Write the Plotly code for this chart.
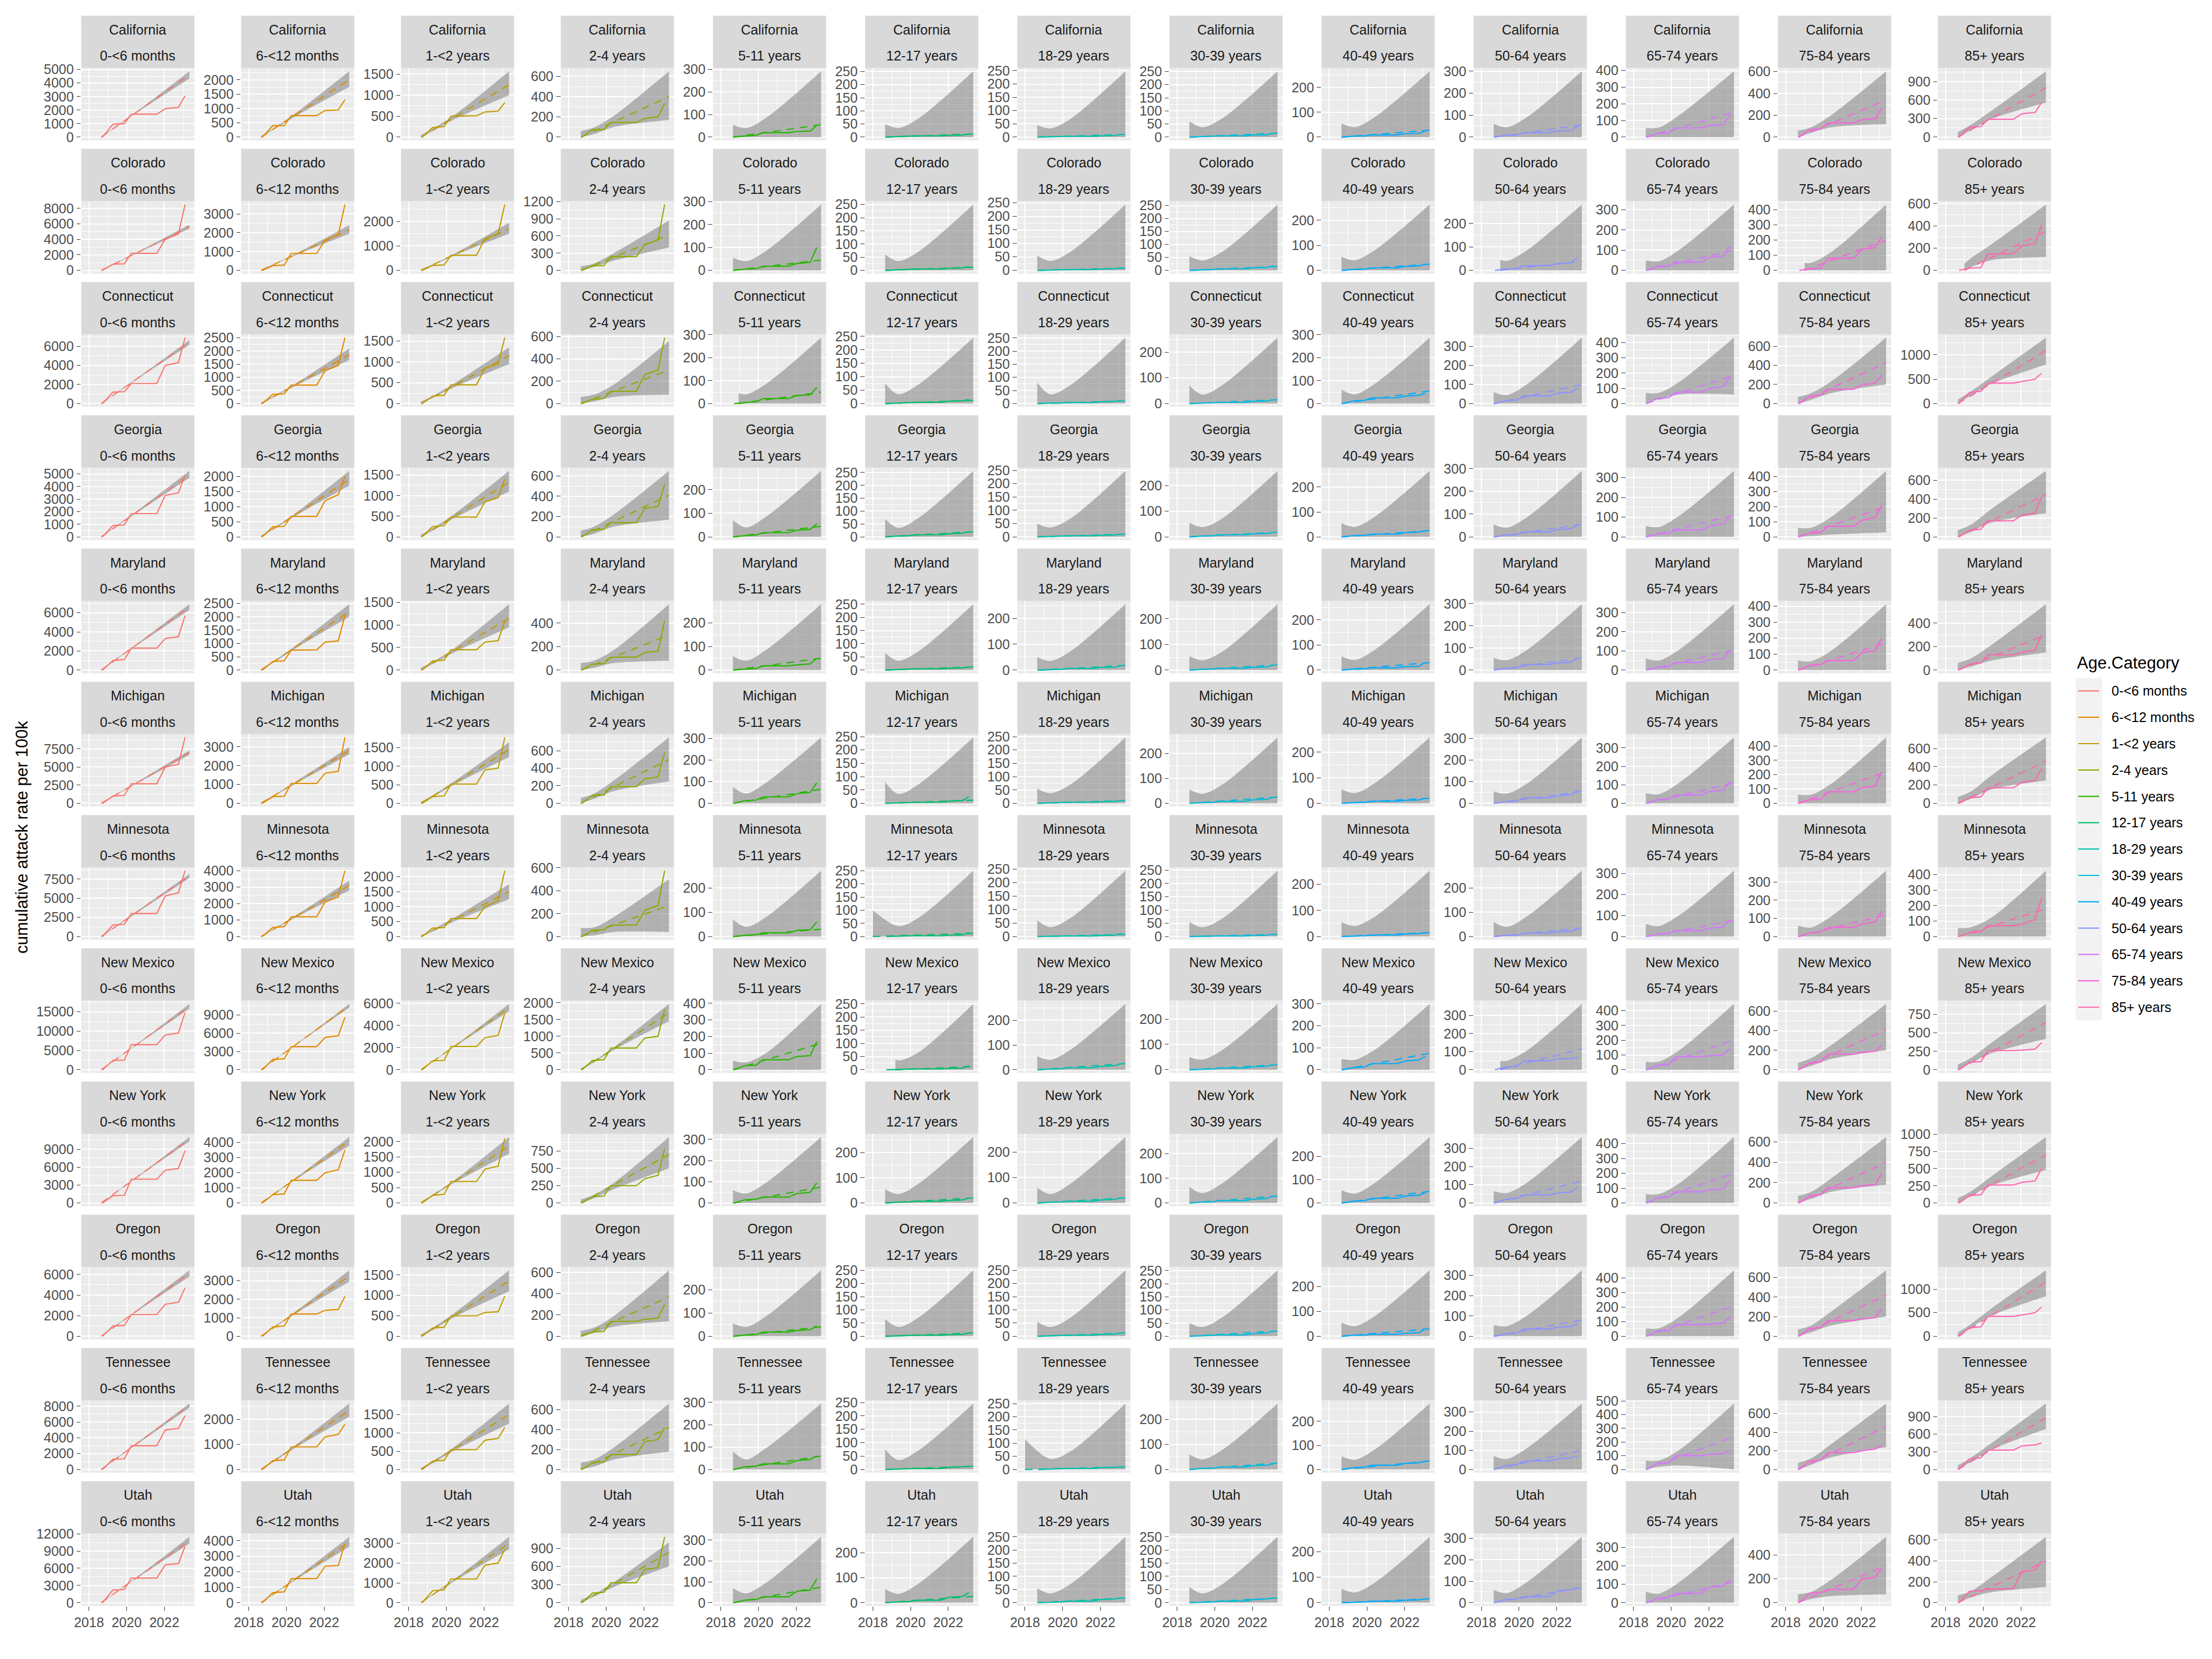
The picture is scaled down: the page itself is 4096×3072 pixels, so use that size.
import plotly.graph_objects as go

# ---------------- categories ----------------
states = ["California", "Colorado", "Connecticut", "Georgia", "Maryland", "Michigan",
          "Minnesota", "New Mexico", "New York", "Oregon", "Tennessee", "Utah"]
ages = ["0-<6 months", "6-<12 months", "1-<2 years", "2-4 years", "5-11 years",
        "12-17 years", "18-29 years", "30-39 years", "40-49 years", "50-64 years",
        "65-74 years", "75-84 years", "85+ years"]
age_colors = ["#F8766D", "#E18A00", "#BE9C00", "#8CAB00", "#24B700", "#00BE70", "#00C1AB",
              "#00BBDA", "#00ACFC", "#8B93FF", "#D575FE", "#F962DD", "#FF65AC"]

obs_time = [2018.72, 2019.27, 2019.88, 2020.25, 2021.6, 2022.05, 2022.75, 2023.1]
band_time = [2018.65, 2019.35, 2020.4, 2023.33]
fit_end_time = 2023.33
x_ticks = [2018, 2020, 2022]

california_obs = [[0, 950, 1000, 1700, 1700, 2100, 2200, 3050], [0, 400, 400, 750, 750, 930, 950, 1300],
                  [0, 230, 250, 500, 510, 600, 620, 820], [0, 75, 75, 145, 145, 185, 200, 330],
                  [0, 5, 8, 20, 20, 25, 27, 52], [0, 2, 3, 5, 5, 7, 8, 12], [0, 1, 2, 3, 3, 5, 6, 10],
                  [0, 2, 3, 5, 5, 8, 9, 15], [0, 4, 5, 9, 9, 14, 15, 25], [0, 8, 10, 20, 21, 28, 30, 48],
                  [0, 22, 25, 55, 55, 70, 75, 130], [0, 70, 75, 130, 130, 160, 170, 270],
                  [0, 160, 170, 290, 290, 380, 400, 560]]
california_fit = [4600, 2000, 1250, 400, 55, 12, 10, 15, 28, 55, 150, 340, 800]
california_up = [[60, 720, 1760, 4870], [40, 330, 800, 2300], [50, 220, 520, 1570], [60, 95, 210, 650],
                 [55, 40, 85, 292], [50, 35, 70, 251], [45, 33, 68, 248], [60, 38, 72, 251], [55, 40, 80, 265],
                 [60, 45, 90, 300], [55, 58, 130, 396], [60, 90, 200, 604], [80, 200, 420, 1068]]
california_lo = [[0, 660, 1680, 4330], [0, 280, 700, 1750], [0, 160, 420, 1000], [0, 30, 100, 170],
                 [0, 0, 0, 0], [0, 0, 0, 0], [0, 0, 0, 0], [0, 0, 0, 0], [0, 0, 0, 0], [0, 0, 0, 0],
                 [0, 0, 0, 0], [0, 40, 90, 120], [0, 110, 290, 560]]
california_dtick = [1000, 500, 500, 200, 100, 50, 50, 50, 100, 100, 100, 200, 300]

colorado_obs = [[0, 800, 850, 2200, 2200, 4000, 4700, 8500], [0, 250, 280, 900, 900, 1600, 1900, 3500],
                [0, 200, 220, 620, 620, 1300, 1500, 2700], [0, 80, 85, 240, 240, 450, 530, 1150],
                [0, 5, 7, 18, 18, 30, 35, 100], [0, 2, 3, 5, 5, 8, 9, 15], [0, 1, 2, 3, 3, 5, 6, 10],
                [0, 2, 3, 6, 6, 10, 11, 18], [0, 4, 5, 10, 10, 16, 18, 25], [0, 6, 8, 20, 20, 28, 32, 55],
                [0, 20, 22, 40, 40, 65, 70, 120], [0, 10, 15, 80, 80, 140, 150, 220],
                [0, 20, 25, 145, 150, 220, 240, 410]]
colorado_fit = [5600, 2150, 1700, 620, 45, 12, 8, 15, 25, 40, 100, 200, 350]
colorado_up = [[60, 870, 2150, 5900], [40, 340, 840, 2400], [40, 270, 670, 1950], [70, 120, 300, 870],
               [55, 40, 85, 288], [60, 35, 70, 250], [55, 35, 68, 244], [55, 38, 72, 254], [55, 40, 80, 263],
               [45, 40, 85, 281], [50, 45, 100, 326], [50, 50, 120, 435], [60, 110, 230, 591]]
colorado_lo = [[0, 800, 2030, 5400], [0, 300, 770, 1950], [0, 230, 600, 1500], [0, 60, 170, 400],
               [0, 0, 0, 0], [0, 0, 0, 0], [0, 0, 0, 0], [0, 0, 0, 0], [0, 0, 0, 0], [0, 0, 0, 0],
               [0, 0, 0, 0], [0, 0, 0, 0], [0, 30, 90, 120]]
colorado_dtick = [2000, 1000, 1000, 300, 100, 50, 50, 50, 100, 100, 100, 100, 200]

connecticut_obs = [[0, 1200, 1250, 2100, 2100, 4000, 4300, 6900], [0, 350, 370, 700, 700, 1250, 1450, 2500],
                   [0, 180, 200, 450, 450, 850, 950, 1580], [0, 40, 45, 110, 110, 260, 300, 590],
                   [0, 5, 8, 22, 22, 35, 38, 70], [0, 2, 3, 5, 5, 9, 10, 15], [0, 2, 2, 4, 4, 7, 8, 12],
                   [0, 2, 3, 5, 5, 9, 10, 15], [0, 12, 14, 25, 25, 33, 36, 45], [0, 15, 18, 40, 40, 55, 60, 80],
                   [0, 35, 40, 75, 75, 100, 110, 170], [0, 80, 90, 150, 150, 200, 210, 300],
                   [0, 230, 250, 420, 420, 450, 500, 620]]
connecticut_fit = [6400, 1850, 1150, 300, 50, 12, 10, 15, 55, 100, 185, 430, 1080]
connecticut_up = [[60, 1000, 2450, 6650], [40, 300, 730, 2100], [50, 200, 480, 1350], [60, 80, 170, 560],
                  [45, 40, 85, 287], [75, 35, 70, 245], [80, 35, 70, 251], [70, 35, 72, 256], [60, 40, 85, 287],
                  [60, 45, 100, 345], [70, 70, 140, 432], [70, 110, 230, 690], [80, 250, 540, 1347]]
connecticut_lo = [[0, 920, 2340, 6150], [0, 250, 650, 1650], [0, 150, 390, 950], [0, 20, 60, 80],
                  [0, 0, 0, 0], [0, 0, 0, 0], [0, 0, 0, 0], [0, 0, 0, 0], [0, 0, 0, 0], [0, 0, 0, 0],
                  [0, 30, 60, 60], [0, 40, 110, 200], [0, 170, 400, 800]]
connecticut_dtick = [2000, 500, 500, 200, 100, 50, 50, 100, 100, 100, 100, 200, 500]

georgia_obs = [[0, 900, 950, 1850, 1850, 3300, 3500, 4900], [0, 330, 350, 680, 680, 1200, 1400, 2000],
               [0, 250, 270, 480, 480, 850, 950, 1400], [0, 70, 75, 140, 140, 280, 300, 520],
               [0, 5, 8, 18, 18, 28, 32, 55], [0, 3, 4, 8, 8, 12, 14, 20], [0, 1, 2, 4, 4, 6, 7, 10],
               [0, 3, 4, 8, 8, 12, 13, 18], [0, 5, 6, 11, 11, 17, 19, 25], [0, 8, 10, 22, 22, 32, 36, 50],
               [0, 15, 18, 35, 35, 55, 65, 100], [0, 25, 30, 70, 70, 110, 130, 210],
               [0, 70, 80, 170, 170, 230, 250, 430]]
georgia_fit = [4900, 1900, 1330, 410, 45, 20, 10, 18, 25, 55, 110, 200, 450]
georgia_up = [[60, 780, 1900, 5240], [40, 310, 750, 2187], [50, 230, 550, 1600], [60, 100, 220, 650],
              [70, 40, 85, 280], [70, 35, 72, 256], [50, 35, 68, 248], [55, 38, 72, 257], [55, 40, 80, 265],
              [55, 40, 85, 290], [55, 50, 105, 334], [60, 60, 130, 437], [70, 130, 290, 699]]
georgia_lo = [[0, 700, 1770, 4700], [0, 260, 670, 1700], [0, 170, 450, 1100], [0, 30, 100, 170],
              [0, 0, 0, 0], [0, 0, 0, 0], [0, 0, 0, 0], [0, 0, 0, 0], [0, 0, 0, 0], [0, 0, 0, 0],
              [0, 0, 0, 0], [0, 5, 15, 30], [0, 50, 150, 250]]
georgia_dtick = [1000, 500, 500, 200, 100, 50, 50, 100, 100, 100, 100, 100, 200]

maryland_obs = [[0, 1000, 1100, 2300, 2300, 3300, 3500, 5700], [0, 320, 350, 750, 760, 1050, 1100, 2050],
                [0, 200, 220, 450, 450, 620, 650, 1080], [0, 50, 55, 110, 110, 150, 160, 420],
                [0, 4, 6, 18, 18, 22, 26, 50], [0, 2, 3, 5, 5, 7, 8, 12], [0, 2, 3, 6, 6, 10, 11, 18],
                [0, 3, 4, 7, 7, 11, 12, 20], [0, 4, 5, 9, 9, 14, 15, 30], [0, 8, 10, 25, 25, 32, 35, 55],
                [0, 15, 18, 40, 40, 55, 60, 100], [0, 30, 35, 60, 60, 110, 120, 200],
                [0, 50, 60, 130, 130, 150, 170, 300]]
maryland_fit = [6600, 2200, 1150, 300, 50, 12, 18, 20, 30, 55, 105, 170, 300]
maryland_up = [[60, 1040, 2540, 6900], [40, 360, 880, 2479], [50, 200, 480, 1460], [60, 80, 170, 561],
               [60, 40, 85, 280], [65, 35, 70, 250], [50, 35, 72, 255], [55, 38, 72, 257], [55, 40, 80, 263],
               [55, 45, 90, 298], [60, 50, 105, 344], [60, 55, 120, 413], [60, 100, 210, 561]]
maryland_lo = [[0, 950, 2400, 6300], [0, 300, 780, 2000], [0, 150, 390, 950], [0, 20, 60, 80],
               [0, 0, 0, 0], [0, 0, 0, 0], [0, 0, 0, 0], [0, 0, 0, 0], [0, 0, 0, 0], [0, 0, 0, 0],
               [0, 0, 0, 0], [0, 0, 0, 0], [0, 30, 80, 150]]
maryland_dtick = [2000, 500, 500, 200, 100, 50, 100, 100, 100, 100, 100, 100, 200]

michigan_obs = [[0, 1000, 1100, 2700, 2700, 5000, 5400, 9100], [0, 350, 380, 1050, 1050, 1600, 1700, 3500],
                [0, 180, 200, 520, 520, 900, 950, 1780], [0, 90, 95, 190, 190, 280, 300, 580],
                [0, 12, 15, 30, 30, 45, 50, 95], [0, 1, 2, 4, 4, 8, 10, 25], [0, 1, 2, 4, 4, 6, 7, 10],
                [0, 3, 4, 8, 8, 14, 16, 25], [0, 3, 4, 8, 8, 12, 13, 20], [0, 8, 10, 25, 25, 35, 40, 60],
                [0, 20, 22, 45, 45, 65, 70, 120], [0, 25, 30, 80, 80, 110, 120, 220],
                [0, 60, 70, 170, 170, 230, 250, 380]]
michigan_fit = [7000, 2800, 1450, 500, 65, 12, 10, 25, 20, 55, 110, 220, 460]
michigan_up = [[60, 1100, 2700, 7300], [40, 450, 1100, 3000], [40, 240, 590, 1650], [60, 110, 260, 751],
               [75, 45, 95, 305], [80, 35, 70, 247], [55, 38, 70, 247], [55, 38, 75, 264], [55, 40, 78, 258],
               [55, 45, 90, 305], [55, 50, 110, 357], [60, 60, 135, 460], [70, 130, 300, 722]]
michigan_lo = [[0, 1000, 2530, 6700], [0, 390, 990, 2600], [0, 190, 500, 1250], [0, 50, 140, 250],
               [0, 0, 0, 0], [0, 0, 0, 0], [0, 0, 0, 0], [0, 0, 0, 0], [0, 0, 0, 0], [0, 0, 0, 0],
               [0, 0, 0, 0], [0, 0, 0, 0], [0, 50, 150, 250]]
michigan_dtick = [2500, 1000, 500, 200, 100, 50, 50, 100, 100, 100, 100, 100, 200]

minnesota_obs = [[0, 1500, 1600, 3000, 3000, 5300, 5700, 8600], [0, 550, 600, 1200, 1200, 2100, 2400, 4000],
                 [0, 280, 300, 600, 600, 1000, 1200, 2200], [0, 55, 60, 100, 100, 230, 270, 575],
                 [0, 5, 8, 15, 15, 25, 28, 60], [0, 1, 2, 3, 3, 5, 6, 15], [0, 1, 1, 2, 2, 4, 5, 12],
                 [0, 1, 1, 2, 2, 4, 5, 10], [0, 2, 3, 6, 6, 10, 11, 15], [0, 5, 6, 14, 14, 20, 22, 30],
                 [0, 12, 14, 28, 28, 40, 45, 80], [0, 20, 25, 50, 50, 70, 80, 140],
                 [0, 25, 30, 70, 70, 80, 110, 250]]
minnesota_fit = [7900, 3100, 1500, 270, 30, 12, 8, 8, 15, 35, 75, 120, 180]
minnesota_up = [[60, 1250, 3050, 8150], [40, 500, 1220, 3400], [40, 260, 630, 1750], [75, 80, 170, 500],
                [70, 40, 80, 271], [100, 40, 70, 250], [60, 35, 68, 244], [55, 35, 68, 248], [55, 40, 75, 252],
                [60, 40, 82, 271], [60, 50, 100, 314], [60, 50, 110, 363], [55, 60, 120, 426]]
minnesota_lo = [[0, 1120, 2860, 7650], [0, 430, 1100, 2800], [0, 190, 500, 1250], [0, 10, 40, 40],
                [0, 0, 0, 0], [0, 0, 0, 0], [0, 0, 0, 0], [0, 0, 0, 0], [0, 0, 0, 0], [0, 0, 0, 0],
                [0, 0, 0, 0], [0, 0, 0, 0], [0, 0, 0, 0]]
minnesota_dtick = [2500, 1000, 500, 200, 100, 50, 50, 50, 100, 100, 100, 100, 100]

new_mexico_obs = [[0, 2400, 2500, 6500, 6500, 9000, 9500, 14800], [0, 1700, 1800, 3800, 3800, 5300, 5600, 8600],
                  [0, 800, 850, 2100, 2100, 2900, 3100, 5100], [0, 280, 300, 650, 650, 950, 1000, 1800],
                  [0, 25, 28, 60, 60, 80, 85, 170], [0, 1, 2, 3, 3, 5, 6, 15], [0, 3, 4, 8, 8, 14, 16, 25],
                  [0, 2, 3, 7, 7, 12, 14, 20], [0, 10, 12, 28, 28, 40, 45, 60], [0, 15, 18, 50, 50, 60, 62, 70],
                  [0, 30, 35, 90, 90, 95, 100, 140], [0, 70, 80, 160, 160, 180, 190, 250],
                  [0, 100, 110, 260, 260, 265, 280, 370]]
new_mexico_fit = [16300, 10500, 5600, 1700, 160, 12, 25, 20, 75, 115, 200, 410, 640]
new_mexico_up = [[60, 2500, 6150, 17045], [50, 1600, 3950, 10815], [40, 860, 2130, 5955], [40, 270, 670, 1969],
                 [55, 45, 100, 397], [40, 35, 65, 250], [55, 40, 80, 266], [50, 40, 78, 260], [50, 45, 90, 300],
                 [50, 50, 105, 364], [55, 55, 130, 446], [70, 120, 250, 675], [70, 160, 360, 893]]
new_mexico_lo = [[0, 2380, 5950, 15800], [0, 1540, 3850, 10200], [0, 800, 2030, 5300], [0, 220, 590, 1450],
                 [0, 0, 0, 0], [0, 0, 0, 0], [0, 0, 0, 0], [0, 0, 0, 0], [0, 0, 0, 0], [0, 0, 0, 0],
                 [0, 0, 0, 0], [0, 40, 110, 200], [0, 90, 220, 420]]
new_mexico_dtick = [5000, 3000, 2000, 500, 100, 50, 100, 100, 100, 100, 100, 200, 250]

new_york_obs = [[0, 1200, 1300, 4000, 4000, 5500, 5800, 8800], [0, 550, 600, 1500, 1500, 2000, 2200, 3500],
                [0, 250, 280, 700, 700, 1100, 1200, 2100], [0, 90, 100, 250, 250, 350, 400, 780],
                [0, 15, 18, 28, 28, 45, 50, 95], [0, 3, 4, 7, 7, 10, 12, 20], [0, 3, 4, 7, 7, 12, 14, 20],
                [0, 4, 5, 10, 10, 15, 18, 30], [0, 8, 10, 20, 20, 30, 33, 45], [0, 20, 25, 45, 45, 55, 60, 85],
                [0, 35, 40, 75, 75, 90, 95, 150], [0, 70, 80, 150, 150, 170, 180, 290],
                [0, 110, 120, 260, 260, 300, 320, 500]]
new_york_fit = [10700, 4100, 1850, 700, 75, 20, 20, 28, 50, 120, 200, 400, 700]
new_york_up = [[60, 1650, 4050, 11058], [40, 650, 1580, 4360], [40, 300, 730, 2143], [50, 120, 290, 950],
               [60, 45, 95, 311], [55, 35, 75, 261], [60, 35, 75, 258], [65, 40, 80, 267], [55, 40, 85, 282],
               [65, 55, 110, 361], [60, 60, 130, 443], [70, 110, 240, 648], [70, 170, 380, 957]]
new_york_lo = [[0, 1560, 3930, 10350], [0, 590, 1480, 3800], [0, 250, 650, 1600], [0, 70, 200, 500],
               [0, 0, 0, 0], [0, 0, 0, 0], [0, 0, 0, 0], [0, 0, 0, 0], [0, 0, 0, 0], [0, 0, 0, 0],
               [0, 0, 0, 0], [0, 40, 110, 180], [0, 100, 250, 480]]
new_york_dtick = [3000, 1000, 500, 250, 100, 100, 100, 100, 100, 100, 100, 200, 250]

oregon_obs = [[0, 1000, 1050, 2100, 2100, 3100, 3300, 4700], [0, 500, 550, 1200, 1200, 1400, 1450, 2150],
              [0, 200, 220, 500, 500, 580, 600, 980], [0, 40, 45, 140, 140, 160, 170, 300],
              [0, 5, 7, 18, 18, 25, 28, 45], [0, 1, 2, 4, 4, 6, 7, 12], [0, 1, 2, 4, 4, 7, 8, 12],
              [0, 2, 3, 5, 5, 10, 12, 20], [0, 4, 5, 8, 8, 12, 14, 30], [0, 12, 14, 35, 35, 45, 48, 60],
              [0, 35, 40, 80, 80, 85, 90, 130], [0, 80, 90, 160, 160, 180, 190, 280],
              [0, 180, 200, 420, 420, 450, 500, 620]]
oregon_fit = [6100, 3250, 1350, 370, 40, 12, 12, 20, 30, 80, 210, 420, 1150]
oregon_up = [[60, 960, 2350, 6394], [40, 520, 1280, 3560], [40, 230, 560, 1612], [50, 80, 190, 619],
             [55, 40, 85, 283], [65, 35, 70, 250], [55, 35, 70, 250], [50, 35, 72, 251], [55, 40, 80, 265],
             [55, 50, 100, 325], [55, 55, 130, 453], [70, 110, 250, 674], [80, 260, 580, 1399]]
oregon_lo = [[0, 880, 2230, 5800], [0, 460, 1170, 2950], [0, 170, 460, 1100], [0, 30, 90, 140],
             [0, 0, 0, 0], [0, 0, 0, 0], [0, 0, 0, 0], [0, 0, 0, 0], [0, 0, 0, 0], [0, 0, 0, 0],
             [0, 0, 0, 0], [0, 40, 110, 200], [0, 180, 430, 850]]
oregon_dtick = [2000, 1000, 500, 200, 100, 50, 50, 50, 100, 100, 100, 200, 500]

tennessee_obs = [[0, 1300, 1350, 3000, 3000, 5000, 5200, 6800], [0, 350, 380, 900, 900, 1300, 1400, 1800],
                 [0, 230, 250, 540, 540, 800, 850, 1150], [0, 70, 75, 150, 150, 280, 300, 420],
                 [0, 12, 15, 25, 25, 40, 45, 60], [0, 1, 2, 4, 4, 8, 10, 12], [0, 1, 2, 4, 4, 7, 8, 10],
                 [0, 4, 5, 10, 10, 15, 17, 22], [0, 8, 10, 18, 18, 25, 28, 35], [0, 20, 25, 45, 45, 55, 60, 70],
                 [0, 45, 50, 100, 100, 110, 115, 140], [0, 90, 100, 180, 180, 200, 220, 260],
                 [0, 180, 200, 330, 330, 400, 420, 450]]
tennessee_fit = [8100, 2350, 1500, 420, 60, 12, 10, 25, 35, 100, 240, 460, 880]
tennessee_up = [[60, 1270, 3120, 8329], [40, 380, 930, 2627], [40, 250, 610, 1801], [70, 100, 220, 663],
                [80, 45, 95, 295], [75, 35, 70, 246], [115, 40, 68, 250], [60, 40, 78, 263], [55, 40, 82, 274],
                [70, 55, 110, 344], [65, 65, 140, 481], [70, 120, 270, 707], [70, 200, 440, 1120]]
tennessee_lo = [[0, 1150, 2930, 7800], [0, 320, 830, 2100], [0, 190, 510, 1250], [0, 30, 100, 180],
                [0, 0, 0, 0], [0, 0, 0, 0], [0, 0, 0, 0], [0, 0, 0, 0], [0, 0, 0, 0], [0, 0, 0, 0],
                [0, 20, 30, 0], [0, 50, 130, 240], [0, 130, 330, 690]]
tennessee_dtick = [2000, 1000, 500, 200, 100, 50, 50, 100, 100, 100, 100, 200, 300]

utah_obs = [[0, 2200, 2300, 4300, 4300, 6600, 6800, 9800], [0, 650, 700, 1550, 1550, 2350, 2400, 3800],
            [0, 600, 650, 1200, 1200, 1900, 2000, 2700], [0, 160, 170, 330, 330, 550, 580, 1090],
            [0, 12, 15, 28, 28, 55, 60, 115], [0, 3, 4, 10, 10, 22, 25, 40], [0, 2, 3, 6, 6, 12, 14, 18],
            [0, 2, 3, 6, 6, 12, 14, 18], [0, 2, 3, 6, 6, 10, 11, 15], [0, 15, 18, 28, 28, 55, 60, 70],
            [0, 25, 30, 50, 50, 85, 90, 125], [0, 80, 85, 110, 110, 200, 210, 290],
            [0, 110, 115, 130, 135, 300, 310, 400]]
utah_fit = [10800, 3900, 3000, 830, 75, 25, 18, 18, 15, 70, 115, 310, 400]
utah_up = [[60, 1680, 4120, 11474], [40, 620, 1520, 4245], [40, 480, 1170, 3325], [50, 140, 340, 1000],
           [70, 45, 95, 316], [55, 35, 75, 264], [55, 35, 70, 250], [60, 35, 70, 250], [55, 40, 78, 258],
           [60, 45, 95, 307], [60, 50, 110, 357], [70, 90, 190, 550], [70, 110, 240, 631]]
utah_lo = [[0, 1560, 3950, 10300], [0, 560, 1410, 3600], [0, 420, 1070, 2700], [0, 100, 260, 600],
           [0, 0, 0, 0], [0, 0, 0, 0], [0, 0, 0, 0], [0, 0, 0, 0], [0, 0, 0, 0], [0, 0, 0, 0],
           [0, 0, 0, 0], [0, 30, 55, 70], [0, 50, 100, 150]]
utah_dtick = [3000, 1000, 1000, 300, 100, 100, 50, 50, 100, 100, 100, 200, 200]

band_start_override = {("Connecticut", "5-11 years"): 2018.95, ("Colorado", "50-64 years"): 2019.0,
                       ("Colorado", "75-84 years"): 2019.0, ("Colorado", "85+ years"): 2019.0,
                       ("New Mexico", "12-17 years"): 2019.2, ("New Mexico", "50-64 years"): 2019.0,
                       ("Minnesota", "12-17 years"): 2018.0, ("Tennessee", "18-29 years"): 2018.0}

state_tables = [
    (california_obs, california_fit, california_up, california_lo, california_dtick),
    (colorado_obs, colorado_fit, colorado_up, colorado_lo, colorado_dtick),
    (connecticut_obs, connecticut_fit, connecticut_up, connecticut_lo, connecticut_dtick),
    (georgia_obs, georgia_fit, georgia_up, georgia_lo, georgia_dtick),
    (maryland_obs, maryland_fit, maryland_up, maryland_lo, maryland_dtick),
    (michigan_obs, michigan_fit, michigan_up, michigan_lo, michigan_dtick),
    (minnesota_obs, minnesota_fit, minnesota_up, minnesota_lo, minnesota_dtick),
    (new_mexico_obs, new_mexico_fit, new_mexico_up, new_mexico_lo, new_mexico_dtick),
    (new_york_obs, new_york_fit, new_york_up, new_york_lo, new_york_dtick),
    (oregon_obs, oregon_fit, oregon_up, oregon_lo, oregon_dtick),
    (tennessee_obs, tennessee_fit, tennessee_up, tennessee_lo, tennessee_dtick),
    (utah_obs, utah_fit, utah_up, utah_lo, utah_dtick),
]

# ---------------- layout geometry (reference pixels, 6000 x 4500) ----------------
RW, RH = 6000.0, 4500.0
col_left = [202, 637, 1072, 1507, 1921, 2335, 2749, 3163, 3577, 3991, 4405, 4819, 5254]
PANEL_W = 308
STRIP_TOP0 = 22
ROW_STEP = 364
STRIP_H = 143
PANEL_H = 198
X_RANGE = [2017.59, 2023.6]

FONT = "Liberation Sans, Arial, sans-serif"
TICK_FS = 25
STRIP_FS = 25
TITLE_FS = 31
BAND_FILL = "rgba(128,128,128,0.55)"
LINE_W = 2.2


def px(xr):
    return xr / RW


def py(yr):
    return 1.0 - yr / RH


fig = go.Figure()
layout_upd = {}
shapes = []
annotations = []

n_rows = len(states)
for r, st in enumerate(states):
    obs_t, fit_t, up_t, lo_t, dt_t = state_tables[r]
    strip_top = STRIP_TOP0 + ROW_STEP * r
    panel_top = strip_top + STRIP_H
    for c, age in enumerate(ages):
        k = r * len(ages) + c + 1
        xa = "x" if k == 1 else f"x{k}"
        ya = "y" if k == 1 else f"y{k}"
        xkey = "xaxis" if k == 1 else f"xaxis{k}"
        ykey = "yaxis" if k == 1 else f"yaxis{k}"
        col = age_colors[c]

        x0 = band_start_override.get((st, age), band_time[0])
        bx = [x0, max(band_time[1], x0 + 0.2), band_time[2], band_time[3]]

        fig.add_trace(go.Scatter(x=bx, y=lo_t[c], xaxis=xa, yaxis=ya, mode="lines",
                                 line=dict(width=0, shape="spline", smoothing=0.9),
                                 hoverinfo="skip", showlegend=False))
        fig.add_trace(go.Scatter(x=bx, y=up_t[c], xaxis=xa, yaxis=ya, mode="lines",
                                 line=dict(width=0, shape="spline", smoothing=0.9),
                                 fill="tonexty", fillcolor=BAND_FILL,
                                 hoverinfo="skip", showlegend=False))
        fig.add_trace(go.Scatter(x=[x0, fit_end_time], y=[0, fit_t[c]], xaxis=xa, yaxis=ya,
                                 mode="lines", line=dict(color=col, width=LINE_W, dash="14px,11px"),
                                 hoverinfo="skip", showlegend=False))
        fig.add_trace(go.Scatter(x=obs_time, y=obs_t[c], xaxis=xa, yaxis=ya, mode="lines",
                                 line=dict(color=col, width=LINE_W),
                                 hoverinfo="skip", showlegend=False))

        vals = obs_t[c] + up_t[c] + lo_t[c] + [0, fit_t[c]]
        vmin, vmax = min(vals), max(vals)
        pad = 0.05 * (vmax - vmin)
        yr = [vmin - pad, vmax + pad]

        L = col_left[c]
        bottom = (r == n_rows - 1)
        layout_upd[xkey] = dict(
            domain=[px(L), px(L + PANEL_W)], anchor=ya, range=X_RANGE,
            tickmode="array", tickvals=x_ticks, ticktext=[str(v) for v in x_ticks],
            showgrid=True, gridcolor="white", gridwidth=1.9,
            minor=dict(dtick=1, tick0=2018, showgrid=True, gridcolor="white", gridwidth=1.0),
            zeroline=False, showline=False,
            ticks="outside" if bottom else "", ticklen=7.8, tickwidth=1.4, tickcolor="#333333",
            showticklabels=bottom, tickfont=dict(family=FONT, size=TICK_FS, color="#4D4D4D"),
            fixedrange=True,
        )
        layout_upd[ykey] = dict(
            domain=[py(panel_top + PANEL_H), py(panel_top)], anchor=xa, range=yr,
            tickmode="linear", tick0=0, dtick=dt_t[c], tickformat="d",
            showgrid=True, gridcolor="white", gridwidth=1.9,
            minor=dict(dtick=dt_t[c] / 2.0, tick0=0, showgrid=True, gridcolor="white", gridwidth=1.0),
            zeroline=False, showline=False,
            ticks="outside", ticklen=7.8, tickwidth=1.4, tickcolor="#333333",
            tickfont=dict(family=FONT, size=TICK_FS, color="#4D4D4D"),
            fixedrange=True,
        )

        # facet strip
        shapes.append(dict(type="rect", xref="paper", yref="paper",
                           x0=px(L), x1=px(L + PANEL_W), y0=py(strip_top + STRIP_H), y1=py(strip_top),
                           fillcolor="#D9D9D9", line=dict(width=0), layer="below"))
        xc = px(L + PANEL_W / 2.0)
        annotations.append(dict(text=st, x=xc, y=py(strip_top + 38), xref="paper", yref="paper",
                                xanchor="center", yanchor="middle", showarrow=False,
                                font=dict(family=FONT, size=STRIP_FS, color="#1A1A1A")))
        annotations.append(dict(text=age, x=xc, y=py(strip_top + 110), xref="paper", yref="paper",
                                xanchor="center", yanchor="middle", showarrow=False,
                                font=dict(family=FONT, size=STRIP_FS, color="#1A1A1A")))

# y axis title
annotations.append(dict(text="cumulative attack rate per 100k", x=px(41), y=py(2266),
                        xref="paper", yref="paper", xanchor="center", yanchor="middle",
                        textangle=-90, showarrow=False,
                        font=dict(family=FONT, size=TITLE_FS, color="black")))

# legend (drawn manually, ggplot style)
LEG_X0, LEG_KEY_W = 5629, 72
LEG_TOP, LEG_STEP = 1831, 72
annotations.append(dict(text="Age.Category", x=px(LEG_X0), y=py(1790), xref="paper", yref="paper",
                        xanchor="left", yanchor="middle", showarrow=False,
                        font=dict(family=FONT, size=TITLE_FS, color="black")))
for i, age in enumerate(ages):
    ytop = LEG_TOP + LEG_STEP * i
    yc = ytop + LEG_STEP / 2.0
    shapes.append(dict(type="rect", xref="paper", yref="paper",
                       x0=px(LEG_X0), x1=px(LEG_X0 + LEG_KEY_W), y0=py(ytop + LEG_STEP), y1=py(ytop),
                       fillcolor="#F2F2F2", line=dict(width=0), layer="below"))
    shapes.append(dict(type="line", xref="paper", yref="paper",
                       x0=px(LEG_X0 + 7), x1=px(LEG_X0 + 64), y0=py(yc), y1=py(yc),
                       line=dict(color=age_colors[i], width=LINE_W)))
    annotations.append(dict(text=age, x=px(5724), y=py(yc), xref="paper", yref="paper",
                            xanchor="left", yanchor="middle", showarrow=False,
                            font=dict(family=FONT, size=TICK_FS, color="black")))

fig.update_layout(
    width=4096, height=3072, autosize=False,
    margin=dict(l=0, r=0, t=0, b=0, pad=0),
    paper_bgcolor="white", plot_bgcolor="#EBEBEB",
    showlegend=False, shapes=shapes, annotations=annotations,
    font=dict(family=FONT, size=TICK_FS, color="#4D4D4D"),
    **layout_upd,
)

fig.write_html("out.html")
